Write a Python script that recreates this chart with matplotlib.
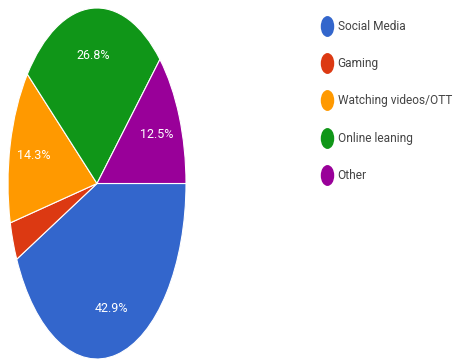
import matplotlib
matplotlib.use("Agg")
import matplotlib.pyplot as plt
from matplotlib.lines import Line2D
from matplotlib.path import Path
from matplotlib.transforms import Affine2D

categories = ["Social Media", "Gaming", "Watching videos/OTT", "Online leaning", "Other"]
shares = [42.9, 3.5, 14.3, 26.8, 12.5]
colors = ["#3366cc", "#dc3912", "#ff9900", "#109618", "#990099"]

plt.rcParams["font.family"] = ["Roboto", "DejaVu Sans"]

fig = plt.figure(figsize=(4.53, 3.6), dpi=100)
ax = fig.add_axes([8 / 453, 1 / 360, 178 / 453, 351 / 360])


def pct_label(p):
    return "%.1f%%" % p if p >= 5 else ""


wedges, texts = ax.pie(shares, colors=colors, startangle=0, counterclock=False,
                       wedgeprops=dict(edgecolor="white", linewidth=0.8),
                       labels=[pct_label(v) for v in shares], labeldistance=0.73,
                       textprops=dict(color="white", fontsize=9,
                                      ha="center", va="center"))
ax.set_aspect("auto")
ax.set_xlim(-1, 1)
ax.set_ylim(-1, 1)
ax.axis("off")

# tall oval markers for the legend
oval = Path.unit_circle().transformed(Affine2D().scale(0.62, 1.0))
handles = [Line2D([], [], linestyle="none", marker=oval, markersize=14,
                  markerfacecolor=c, markeredgecolor=c) for c in colors]
fig.legend(handles, categories, loc="upper left",
           bbox_to_anchor=(322 / 453, 1 - 20 / 360), frameon=False,
           fontsize=8.6, labelcolor="#444444", labelspacing=2.03,
           handlelength=0.8, handletextpad=0.5, borderaxespad=0,
           borderpad=0)

fig.savefig("out.png", dpi=100)
